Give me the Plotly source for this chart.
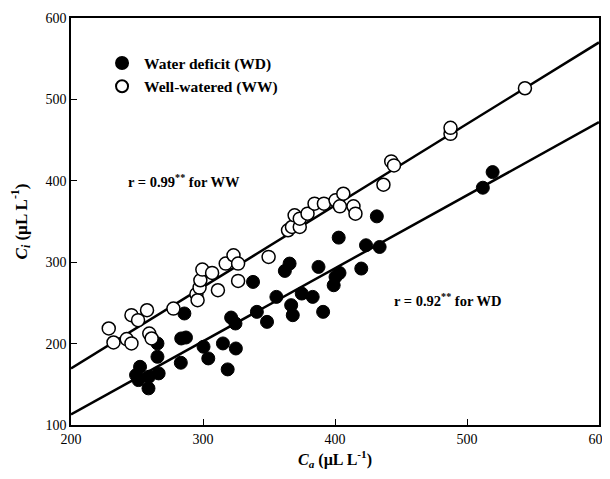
import plotly.graph_objects as go

# Well-watered (open circles)
ww_ca = [228.6, 232.2, 245.8, 250.8, 242.2, 245.8, 257.6, 259.3, 261.1, 277.6,
         295.0, 295.9, 297.4, 298.0, 299.5, 306.9, 311.3, 317.2, 323.1, 326.6,
         326.6, 349.7, 364.4, 367.4, 369.4, 373.3, 373.3, 379.2, 384.5, 391.6,
         400.4, 403.7, 406.3, 414.0, 415.5, 436.7, 442.6, 444.7, 487.5, 487.5,
         543.9]
ww_ci = [218.6, 201.4, 234.9, 228.8, 205.5, 200.2, 241.0, 212.4, 206.3, 243.0,
         260.7, 253.3, 268.8, 277.8, 290.9, 286.8, 265.6, 298.3, 308.5, 298.3,
         277.0, 306.5, 339.2, 343.3, 357.6, 343.3, 353.5, 359.6, 371.9, 371.9,
         376.0, 368.6, 384.1, 368.6, 359.6, 395.2, 423.8, 418.9, 457.7, 465.1,
         513.7]

# Water deficit (filled circles)
wd_ca = [249.3, 251.1, 252.3, 258.7, 259.0, 265.5, 265.5, 266.4, 285.9, 283.5,
         287.1, 283.2, 300.4, 304.0, 315.1, 318.7, 321.3, 324.6, 324.9, 337.9,
         340.8, 348.5, 355.6, 362.0, 365.6, 366.8, 368.0, 374.8, 383.1, 387.5,
         391.0, 399.0, 400.4, 403.4, 402.8, 419.9, 423.5, 431.7, 433.8, 512.0,
         519.4]
wd_ci = [161.3, 155.2, 171.5, 145.0, 159.3, 200.2, 183.8, 163.4, 237.0, 206.3,
         207.5, 176.5, 196.1, 181.8, 200.2, 168.3, 232.0, 224.7, 194.0, 275.8,
         239.0, 226.7, 257.4, 289.3, 298.3, 247.2, 234.9, 261.5, 257.4, 294.2,
         239.0, 271.7, 281.9, 286.8, 330.2, 292.2, 320.8, 356.3, 318.7, 391.5,
         410.7]

# regression line end points
ww_line_x = [200, 600]
ww_line_y = [169.5, 570.0]
wd_line_x = [200, 600]
wd_line_y = [113.0, 472.0]

FONT = "Liberation Serif, Times New Roman, serif"

fig = go.Figure()

fig.add_trace(go.Scatter(x=ww_line_x, y=ww_line_y, mode="lines",
                         line=dict(color="black", width=2.5),
                         showlegend=False, hoverinfo="skip"))
fig.add_trace(go.Scatter(x=wd_line_x, y=wd_line_y, mode="lines",
                         line=dict(color="black", width=2.5),
                         showlegend=False, hoverinfo="skip"))

fig.add_trace(go.Scatter(
    x=wd_ca, y=wd_ci, mode="markers", name="<b>Water deficit (WD)</b>",
    marker=dict(symbol="circle", size=13, color="black",
                line=dict(color="black", width=1))))
fig.add_trace(go.Scatter(
    x=ww_ca, y=ww_ci, mode="markers", name="<b>Well-watered (WW)</b>",
    marker=dict(symbol="circle", size=13, color="white",
                line=dict(color="black", width=1.5))))

fig.add_annotation(x=242, y=400, xanchor="left", yanchor="middle",
                   text="<b>r = 0.99<sup>**</sup> for WW</b>", showarrow=False,
                   font=dict(family=FONT, size=14.5, color="black"))
fig.add_annotation(x=443, y=253, xanchor="left", yanchor="middle",
                   text="<b>r = 0.92<sup>**</sup> for WD</b>", showarrow=False,
                   font=dict(family=FONT, size=14.5, color="black"))

axis_common = dict(
    showgrid=False, zeroline=False, showline=True, linecolor="black",
    linewidth=1.5, mirror=True, ticks="inside", ticklen=6, tickwidth=1.2,
    tickcolor="black", tickfont=dict(family=FONT, size=14, color="black"),
    automargin=False,
)

fig.update_xaxes(range=[200, 600], tickvals=[200, 300, 400, 500, 600],
                 title=dict(text="<b><i>C</i><sub><i>a</i></sub> (µL L<sup>-1</sup>)</b>",
                            font=dict(family=FONT, size=16, color="black"),
                            standoff=8),
                 **axis_common)
fig.update_yaxes(range=[100, 600], tickvals=[100, 200, 300, 400, 500, 600],
                 title=dict(text="<b><i>C</i><sub><i>i</i></sub> (µL L<sup>-1</sup>)</b>",
                            font=dict(family=FONT, size=17, color="black"),
                            standoff=14),
                 **axis_common)

# the page body adds an 8px margin, so the figure is a bit smaller than the window
fig.update_layout(
    width=602, height=463,
    margin=dict(l=63, r=11, t=10, b=46),
    plot_bgcolor="white", paper_bgcolor="white",
    font=dict(family=FONT, color="black"),
    legend=dict(x=0.055, y=0.93, xanchor="left", yanchor="top",
                bgcolor="rgba(0,0,0,0)", borderwidth=0,
                font=dict(family=FONT, size=15.5, color="black"),
                itemsizing="constant", itemwidth=34, tracegroupgap=0),
)

fig.write_html("out.html")
